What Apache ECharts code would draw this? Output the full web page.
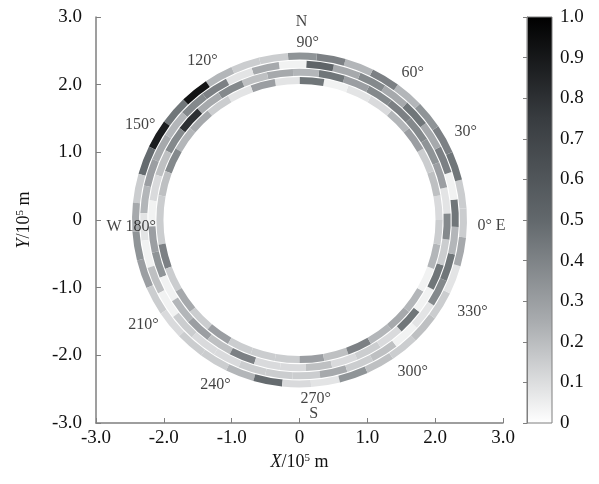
<!DOCTYPE html>
<html><head><meta charset="utf-8">
<script src="https://cdn.jsdelivr.net/npm/echarts@6/dist/echarts.min.js"></script>
<style>html,body{margin:0;padding:0;background:#fff}#c{width:599px;height:484px}</style>
</head><body><div id="c"></div>
<script>
// Angular bins: 10° each, starting at 0° (E), counter-clockwise
const binStarts = [0,10,20,30,40,50,60,70,80,90,100,110,120,130,140,150,160,170,180,190,200,210,220,230,240,250,260,270,280,290,300,310,320,330,340,350];
// Ring radial edges (10^5 m), inner to outer
const ringEdges = [2.0, 2.12, 2.24, 2.36, 2.48];
// Normalised values for each ring (inner -> outer), per 10° bin
const ring1 = [0.11,0.19,0.15,0.30,0.22,0.11,0.08,0.04,0.45,0.08,0.30,0.08,0.15,0.26,0.22,0.38,0.19,0.15,0.15,0.41,0.15,0.26,0.15,0.30,0.15,0.15,0.15,0.30,0.19,0.41,0.22,0.26,0.22,0.04,0.22,0.15];
const ring2 = [0.08,0.30,0.34,0.38,0.41,0.38,0.30,0.45,0.22,0.26,0.19,0.38,0.26,0.80,0.38,0.19,0.11,0.04,0.30,0.34,0.04,0.22,0.30,0.19,0.41,0.11,0.11,0.19,0.11,0.15,0.11,0.45,0.04,0.45,0.15,0.38];
const ring3 = [0.45,0.04,0.41,0.26,0.45,0.26,0.38,0.26,0.52,0.04,0.26,0.08,0.41,0.38,0.22,0.26,0.30,0.22,0.08,0.04,0.19,0.04,0.15,0.11,0.11,0.15,0.15,0.15,0.26,0.15,0.19,0.04,0.08,0.38,0.45,0.22];
const ring4 = [0.15,0.45,0.41,0.34,0.22,0.41,0.22,0.41,0.34,0.15,0.15,0.22,0.92,0.45,0.88,0.49,0.15,0.26,0.34,0.30,0.15,0.11,0.15,0.15,0.22,0.49,0.11,0.08,0.34,0.19,0.15,0.19,0.15,0.08,0.26,0.15];
const rings = [ring1, ring2, ring3, ring4];
// Direction annotations
const dirLabels = ['N','90°','60°','30°','0° E','330°','300°','270°','S','240°','210°','W 180°','150°','120°'];
const dirLabelPos = [[0.03,2.93],[0.12,2.62],[1.67,2.17],[2.45,1.31],[2.83,-0.09],[2.55,-1.36],[1.67,-2.25],[0.24,-2.64],[0.21,-2.87],[-1.24,-2.44],[-2.30,-1.55],[-2.48,-0.10],[-2.35,1.40],[-1.43,2.36]];

const binWidth = 10;
const ringOffset = [0, 2.5, -2.5, 4];
const cmap = ['#ffffff','#a9acaf','#62686c','#383c40','#000000'];

const cellData = [];
rings.forEach((arr, ri) => arr.forEach((v, k) => cellData.push([binStarts[k], ri, v])));

const FONT = 'Liberation Serif';
const axisCol = '#7f7f7f';
const chart = echarts.init(document.getElementById('c'), null, {renderer: 'canvas'});

function fmt(v){ return v === 0 ? '0' : v.toFixed(1); }
const nameRich = {i: {fontStyle: 'italic', fontFamily: FONT, fontSize: 18, color: '#111'},
                  s: {fontSize: 11, verticalAlign: 'top', padding: [0,0,8,0], fontFamily: FONT, color: '#111'}};

const option = {
  backgroundColor: '#fff',
  animation: false,
  textStyle: {fontFamily: FONT},
  grid: [
    {left: 96, top: 17, width: 407, height: 406},
    {left: 527, top: 17, width: 25, height: 406, show: true, borderColor: axisCol, borderWidth: 1,
     backgroundColor: new echarts.graphic.LinearGradient(0,0,0,1,[
       {offset:0,color:cmap[4]},{offset:0.25,color:cmap[3]},{offset:0.5,color:cmap[2]},{offset:0.75,color:cmap[1]},{offset:1,color:cmap[0]}])}
  ],
  xAxis: [
    {gridIndex: 0, type: 'value', min: -3, max: 3, interval: 1,
     name: '{i|X}/10{s|5} m', nameLocation: 'middle', nameGap: 29,
     nameTextStyle: {fontFamily: FONT, fontSize: 18, color: '#111', rich: nameRich},
     axisLine: {show: true, onZero: false, lineStyle: {color: axisCol, width: 1.5}},
     axisTick: {show: true, inside: true, length: 5, lineStyle: {color: axisCol}},
     axisLabel: {formatter: fmt, fontFamily: FONT, fontSize: 19, color: '#111', margin: 6},
     splitLine: {show: false}},
    {gridIndex: 1, type: 'value', min: 0, max: 1, show: false}
  ],
  yAxis: [
    {gridIndex: 0, type: 'value', min: -3, max: 3, interval: 1,
     name: '{i|Y}/10{s|5} m', nameLocation: 'middle', nameGap: 62,
     nameTextStyle: {fontFamily: FONT, fontSize: 18, color: '#111', rich: nameRich},
     axisLine: {show: true, onZero: false, lineStyle: {color: axisCol, width: 1.5}},
     axisTick: {show: true, inside: true, length: 5, lineStyle: {color: axisCol}},
     axisLabel: {formatter: fmt, fontFamily: FONT, fontSize: 19, color: '#111', margin: 14},
     splitLine: {show: false}},
    {gridIndex: 1, type: 'value', min: 0, max: 1, interval: 0.1, position: 'right',
     axisLine: {show: true, lineStyle: {color: axisCol}},
     axisTick: {show: true, inside: true, length: 4, lineStyle: {color: axisCol}},
     axisLabel: {formatter: fmt, fontFamily: FONT, fontSize: 19, color: '#111', margin: 8},
     splitLine: {show: false}}
  ],
  visualMap: {
    type: 'continuous', show: false, min: 0, max: 1, dimension: 2, seriesIndex: 0,
    inRange: {color: cmap}
  },
  series: [
    {
      type: 'custom', coordinateSystem: 'cartesian2d', xAxisIndex: 0, yAxisIndex: 0,
      data: cellData, encode: {x: -1, y: -1},
      renderItem: function(params, api){
        const a0 = api.value(0), ri = api.value(1);
        const c = api.coord([0, 0]);
        const s = api.size([1, 1]);
        const k = (s[0] + s[1]) / 2;
        const off = ringOffset[ri];
        const t1 = (a0 + off) * Math.PI / 180, t2 = (a0 + off + binWidth) * Math.PI / 180;
        return {
          type: 'sector',
          shape: {cx: c[0], cy: c[1], r0: (ringEdges[ri] + 0.008) * k, r: (ringEdges[ri+1] - 0.008) * k,
                  startAngle: -t2, endAngle: -t1, clockwise: true},
          style: {fill: api.visual('color'), stroke: null}
        };
      }
    },
    {
      type: 'scatter', xAxisIndex: 0, yAxisIndex: 0, symbolSize: 0, silent: true, z: 10,
      data: dirLabels.map((t, i) => ({name: t, value: dirLabelPos[i]})),
      label: {show: true, position: 'inside', formatter: p => p.name, fontFamily: FONT, fontSize: 16, color: '#111'}
    }
  ]
};
chart.setOption(option);
</script>
</body></html>
